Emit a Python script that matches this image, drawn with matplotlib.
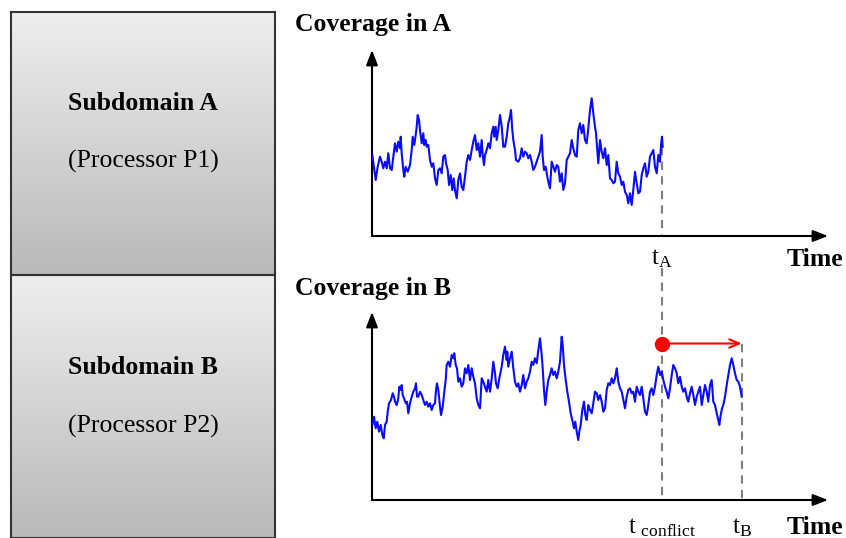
import numpy as np
import matplotlib.pyplot as plt
from matplotlib.patches import Rectangle

plt.rcParams['font.family'] = ['Liberation Serif', 'DejaVu Serif']
plt.rcParams['mathtext.fontset'] = 'custom'
plt.rcParams['mathtext.rm'] = 'Liberation Serif'

# coverage traces (time, coverage; arbitrary units)
time_a = [0.3, 2.3, 3.7, 5.7, 8, 9.7, 11.3, 13, 14.7, 16.3, 18, 19.7, 21.3, 23, 24.7, 26.3,
          28, 28.7, 29.7, 31.3, 32.3, 33.7, 35.7, 38, 39.7, 40.7, 42.3, 43.7, 44.7, 45.7,
          47, 48, 49.7, 51.3, 52.3, 53.7, 54.7, 56.3, 58, 59.7, 61.3, 63, 64.7, 66.3, 68,
          69.7, 71.3, 73, 74, 75.7, 77, 78.7, 80.3, 81.7, 83, 84.7, 86.3, 88, 89.7, 91.3,
          93, 94.7, 96.3, 98, 99.7, 101.3, 103, 104.7, 106.3, 108, 109.7, 110.7, 112, 113,
          114.7, 116.3, 118, 119.7, 121.3, 122.3, 123.7, 124.7, 126.3,
          128, 129.7, 131.3, 133, 134.7, 136.3, 138, 139, 140.3, 141.3, 143, 144, 146.3,
          148, 149.7, 151.3, 153, 154.7, 156.3, 158, 159.7, 161.3, 163, 164.7, 166.3, 168,
          169.7, 170.7, 172, 173.7, 175.3, 176.3, 178, 179.7, 181.3, 183, 184.7, 186.3,
          188, 189.7, 191.3, 193, 194.7, 196.3, 198, 199.7, 201.3, 203, 204.7, 206.3, 208,
          209.7, 211.3, 213, 214.7, 216.3, 218, 219.7, 221.3, 223, 224, 225.3, 226.3, 228,
          229.7, 231.3, 233, 234.7, 236.3, 238, 239.7, 241.3, 243, 244.7, 246.3, 248,
          249.7, 251.3, 253, 254.7, 256.3, 258, 259.7, 261.3, 263, 264.7, 266.3, 268,
          269.7, 271.3, 273, 274.7, 276.3, 278, 279.7, 281.3, 283, 284.7, 286.3, 288, 289,
          290, 290.7]
cov_a = [81, 66, 56, 69.3, 79.3, 74.3, 67.7, 74.3, 67.7, 82.7, 67.7, 66, 79.3, 92.7, 84.3,
         94.3, 87.7, 99.3, 82.7, 66, 59.3, 69.3, 64.3, 71, 86, 99.3, 91, 101, 109.3, 121,
         116, 106, 92.7, 102.7, 91, 96, 89.3, 91, 76, 69.3, 72.7, 57.7, 51, 66, 67.7, 62.7,
         79.3, 81, 72.7, 66, 51, 61, 46, 57.7, 46, 37.7, 56, 62.7, 49.3, 46, 59.3, 74.3,
         81, 76, 86, 94.3, 101, 86, 92.7, 79.3, 96, 81, 71, 81, 86, 92.7, 87.7, 102.7,
         109.3, 99.3, 109.3, 96, 106,
         121, 109.3, 89.3, 89.3, 99.3, 112.7, 119.3, 126, 106, 96, 86, 76, 74.3, 77.7,
         87.7, 79.3, 84.3, 82.7, 77.7, 81, 74.3, 66, 69.3, 74.3, 79.3, 84.3, 101, 79.3,
         66, 69.3, 59.3, 54.3, 47.7, 74.3, 69.3, 64.3, 71, 69.3, 54.3, 62.7, 46, 52.7, 76,
         79.3, 82.7, 96, 87.7, 81, 79.3, 106, 112.7, 102.7, 111, 96, 92.7, 107.7, 126,
         137.7, 122.7, 109.3, 102.7, 86, 72.7, 96, 84.3, 77.7, 87.7, 71, 81, 57.7, 56,
         52.7, 54.3, 74.3, 62.7, 59.3, 51, 54.3, 44.3, 41, 32.7, 42.7, 31, 46, 64.3, 52.7,
         42.7, 44.3, 61, 67.7, 72.7, 59.3, 64.3, 79.3, 82.7, 86, 69.3, 62.7, 81, 74.3, 91,
         99.3, 89.3]

time_b = [0.3, 2, 3.7, 5.3, 7, 8.7, 10.3, 11.7, 13, 14.7, 15.7, 17, 19, 20.7, 22, 23, 24.7,
          26.3, 27.3, 28.3, 29.7, 30.7, 32, 33.7, 35, 36.3, 38, 39.7, 41.3, 43, 44, 45,
          46.3, 48, 49.7, 51.3, 53, 54.7, 56.3, 58, 59.7, 61.3, 63, 64, 65, 66.3, 68, 69,
          70.7, 72.3, 73.7, 74.7, 76.3, 78, 79.7, 81.3, 82.3, 83.7, 85, 86.3, 88, 89.7,
          91.3, 93, 94.7, 96.3, 98, 99.7, 101.3, 103, 104.7, 106.3, 108, 109.7, 111.3, 113,
          114.7, 116.3, 118, 119.7, 121.3, 123, 124, 125.7, 127,
          128, 129.7, 131.3, 133, 134.7, 135.3, 136.3, 138, 139.7, 141.3, 143, 144.7,
          146.3, 148, 149.7, 151.3, 153, 154.7, 156.3, 158, 159.7, 161.3, 163, 164.7,
          166.3, 168, 169.7, 170.7, 172, 173.3, 174.7, 176.3, 178, 179.7, 181.3, 183,
          184.7, 186.3, 188, 189.7, 190.7, 192, 193.7, 195.3, 197, 198.7, 200.7, 202,
          203.3, 204.7, 206.3, 207.3, 208.7, 210.3, 212, 213.3, 214.7, 216.3, 218, 219.7,
          221.3, 223, 224.7, 226.3, 228, 229.7, 231.3, 233, 234.7, 236.3, 238, 239.7,
          241.3, 243, 244.7, 246.3, 248, 249.7, 251.3, 253, 254.7, 256.3, 258, 259.7,
          261.3, 263, 264.7, 266.3, 268, 269.7, 271.3, 273, 274.7, 276.3, 278, 279.7,
          281.3, 283, 284.7, 286.3, 288, 289.7, 291.3, 293, 294.7, 296.3, 298, 299.7,
          301.3, 303, 304.7, 306.3, 308, 309.7, 311.3, 313, 314.7, 316.3, 318, 319.7,
          321.3, 323, 324.7, 326.3, 328, 329.7, 331.3, 333, 334.7, 336.3, 338, 339.7,
          341.3, 343, 344.7, 346.3, 347.3, 348.7, 350, 351.3, 353, 354.7, 356.3, 358,
          359.7, 361.3, 363, 364.7, 366.3, 368, 369.7]
cov_b = [75, 83.3, 71.7, 78.3, 68.3, 75, 65, 61.7, 75, 78.3, 88.3, 96.7, 100, 106.7, 103.3,
         98.3, 95, 101.7, 113.3, 110, 115, 105, 101.7, 96.7, 98.3, 86.7, 96.7, 103.3,
         108.3, 111.7, 116.7, 103.3, 103.3, 108.3, 105, 100, 95, 98.3, 93.3, 96.7, 90, 95,
         96.7, 110, 116.7, 110, 93.3, 85, 93.3, 108.3, 120, 135, 138.3, 133.3, 145, 141.7,
         146.7, 135, 131.7, 118.3, 121.7, 113.3, 116.7, 131.7, 126.7, 135, 120, 131.7,
         123.3, 116.7, 101.7, 95, 91.7, 121.7, 118.3, 113.3, 108.3, 120, 108.3, 121.7,
         138.3, 126.7, 116.7, 111.7, 120,
         125, 133.3, 145, 153.3, 140, 148.3, 133.3, 141.7, 148.3, 131.7, 118.3, 113.3,
         116.7, 108.3, 115, 125, 111.7, 118.3, 121.7, 128.3, 138.3, 135, 141.7, 136.7,
         150, 161.7, 145, 131.7, 110, 95, 108.3, 120, 125, 131.7, 125, 128.3, 121.7,
         128.3, 138.3, 163.3, 155, 135, 120, 108.3, 98.3, 86.7, 78.3, 71.7, 78.3, 68.3,
         60, 68.3, 75, 90, 98.3, 85, 80, 95, 90, 86.7, 96.7, 108.3, 106.7, 100, 105, 98.3,
         88.3, 91.7, 110, 116.7, 115, 121.7, 116.7, 121.7, 131.7, 118.3, 111.7, 108.3,
         100, 91.7, 103.3, 110, 111.7, 106.7, 108.3, 98.3, 113.3, 108.3, 105, 113.3,
         101.7, 88.3, 85, 95, 108.3, 111.7, 105, 113.3, 125, 133.3, 125, 128.3, 120,
         113.3, 108.3, 101.7, 111.7, 125, 135, 131.7, 126.7, 116.7, 123.3, 113.3, 108.3,
         111.7, 103.3, 98.3, 106.7, 113.3, 105, 95, 103.3, 108.3, 113.3, 95, 105, 115,
         108.3, 98.3, 115, 120, 98.3, 95, 86.7, 80, 75, 85, 91.7, 95, 103.3, 115, 125,
         135, 141.7, 135, 126.7, 120, 118.3, 113.3, 103.3]

t_a = 290
t_conflict = 290
t_b = 369.7
conflict_level = 156.5

labels_box = [('Subdomain A', '(Processor P1)'), ('Subdomain B', '(Processor P2)')]

W, H = 846, 538
fig = plt.figure(figsize=(W / 100, H / 100), dpi=100)

# background axes in pixel units for the two subdomain boxes
bg = fig.add_axes([0, 0, 1, 1])
bg.set_xlim(0, W)
bg.set_ylim(H, 0)
bg.axis('off')

# vertical grey gradient, light at the top, darker at the bottom
shade = np.linspace(0.935, 0.725, 256)
grad = np.repeat(shade[:, None, None], 3, axis=2)
for i, (title, sub) in enumerate(labels_box):
    top = 12 + i * 263
    bottom = top + 263
    bg.imshow(grad, extent=(11, 275, bottom, top), aspect='auto', zorder=1)
    bg.add_patch(Rectangle((11, top), 264, 263, fill=False, ec='#333333', lw=1.5, zorder=2))
    bg.text(143, top + 92 + i, title, ha='center', va='center', fontsize=18.5, fontweight='bold')
    bg.text(143, top + 149 + 2 * i, sub, ha='center', va='center', fontsize=18.5)

bg.text(295, 25, 'Coverage in A', ha='left', va='center', fontsize=18.5, fontweight='bold')
bg.text(295, 289, 'Coverage in B', ha='left', va='center', fontsize=18.5, fontweight='bold')
bg.text(843, 260, 'Time', ha='right', va='center', fontsize=18.5, fontweight='bold')
bg.text(843, 527, 'Time', ha='right', va='center', fontsize=18.5, fontweight='bold')


def make_panel(x0, y_axis, y_tip, x_tip):
    ax = fig.add_axes([x0 / W, (H - y_axis) / H, (x_tip - x0) / W, (y_axis - y_tip) / H])
    ax.set_xlim(0, x_tip - x0)
    ax.set_ylim(0, y_axis - y_tip)
    ax.axis('off')
    ax.patch.set_alpha(0)
    arrow = dict(arrowstyle='-|>,head_length=0.9,head_width=0.35', color='black', lw=1.5,
                 shrinkA=0, shrinkB=0)
    ax.annotate('', xy=(1, 0), xytext=(0, 0), xycoords='axes fraction', arrowprops=arrow)
    ax.annotate('', xy=(0, 1), xytext=(0, 0), xycoords='axes fraction', arrowprops=arrow)
    return ax


ax_a = make_panel(372, 236, 50, 828)
ax_b = make_panel(372, 500, 312, 828)

blue = '#0a0aff'
ax_a.plot(time_a, cov_a, color=blue, lw=1.5, zorder=3)
ax_b.plot(time_b, cov_b, color=blue, lw=1.5, zorder=3)

dash = dict(color='#808080', lw=1.5, ls=(0, (4, 3)), clip_on=False, zorder=2)
ax_a.plot([t_a, t_a], [cov_a[-1], 0], **dash)
ax_b.plot([t_conflict, t_conflict], [232, 0], **dash)
ax_b.plot([t_b, t_b], [conflict_level, 0], **dash)

ax_b.annotate('', xy=(t_b, conflict_level), xytext=(t_conflict, conflict_level),
              arrowprops=dict(arrowstyle='->,head_length=0.7,head_width=0.3', color='#ff0000',
                              lw=1.5, shrinkA=0, shrinkB=0), zorder=4)
ax_b.plot([t_conflict], [conflict_level], 'o', color='#ff0000', ms=10, zorder=5, clip_on=False)

ax_a.annotate(r'$\mathregular{t_A}$', xy=(t_a, 0), xytext=(0, -16), textcoords='offset points',
              ha='center', va='center', fontsize=18)
ax_b.annotate(r'$\mathregular{t_{\ conflict}}$', xy=(t_conflict, 0), xytext=(0, -20),
              textcoords='offset points', ha='center', va='center', fontsize=18)
ax_b.annotate(r'$\mathregular{t_B}$', xy=(t_b, 0), xytext=(0, -20), textcoords='offset points',
              ha='center', va='center', fontsize=18)

fig.savefig('out.png', dpi=100)
